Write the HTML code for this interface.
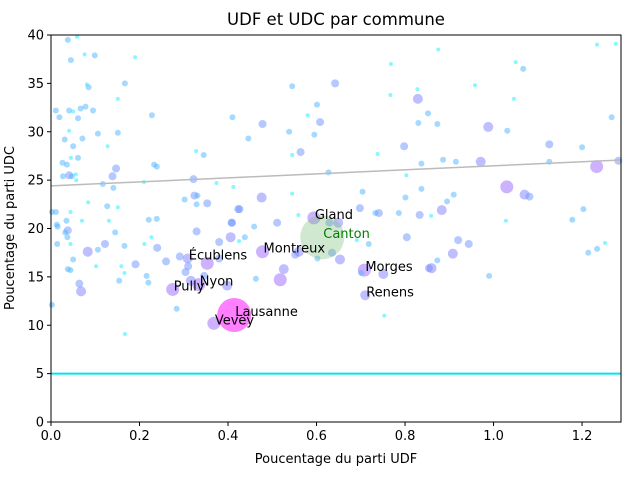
<!DOCTYPE html>
<html><head><meta charset="utf-8"><style>
body{margin:0;background:#fff}
svg{display:block;font-family:"DejaVu Sans","Liberation Sans",sans-serif}
</style></head><body>
<svg id="chart" width="640" height="480">
<text x="336" y="25" text-anchor="middle" font-size="16.5">UDF et UDC par commune</text>
<g id="plot"></g>
<text x="336" y="463" text-anchor="middle" font-size="13">Poucentage du parti UDF</text>
<text transform="translate(14,228) rotate(-90)" text-anchor="middle" font-size="13">Poucentage du parti UDC</text>
</svg>
<script>
const xVals=[.038,.059,.045,.076,.099,.19,.167,.081,.085,.151,.011,.019,.041,.05,.067,.078,.095,.061,.106,.151,.031,.041,.071,.05,.128,.228,.328,.345,.41,.026,.036,.045,.061,.147,.233,.239,.041,.047,.056,.057,.027,.139,.117,.141,.21,.322,.374,.412,.324,.331,.084,.127,.151,.302,.329,.353,.423,.011,.002,.044,.035,.07,.131,.221,.239,.013,.015,.038,.032,.037,.145,.329,.408,.044,.014,.227,.211,.122,.166,.24,.083,.106,.38,.406,.05,.102,.191,.26,.291,.309,.31,.304,.353,.38,.038,.044,.159,.166,.216,.22,.154,.064,.068,.275,.316,.334,.346,.398,.284,.167,.368,.414,.002,.768,.545,.642,.829,.828,.767,.852,.601,.58,.608,.478,.538,.595,.83,.446,.545,.564,.798,.738,.837,.627,.803,.476,.545,.704,.801,.837,.426,.559,.594,.698,.733,.741,.786,.833,.409,.459,.511,.629,.649,.425,.438,.804,.718,.691,.478,.552,.56,.635,.602,.653,.526,.518,.463,.708,.751,.701,.854,.71,.753,.875,1.234,1.276,1.05,1.067,.958,1.046,.873,.988,1.031,1.267,1.126,1.2,.886,.915,.971,1.126,1.233,1.282,1.03,1.07,1.081,.91,.895,.883,.859,1.203,1.178,1.028,1.252,1.234,1.214,.92,.944,.908,.873,.86,.99];
const yVals=[39.5,39.8,37.4,38,37.9,37.7,35,34.9,34.6,33.4,32.2,31.5,32.2,32.1,32.4,32.6,32.2,31.4,29.8,29.9,29.2,30.1,29.3,28.5,28.5,31.7,28,27.6,31.5,26.8,26.6,27.3,27.3,26.2,26.6,26.4,25.5,25.4,25.6,25,25.4,25.4,24.6,24.2,24.8,25.1,24.7,24.3,23.4,23.4,22.7,22.3,22.2,23,22.5,22.6,22,21.7,21.7,21.7,20.8,20.8,20.8,20.9,21,20.4,20.2,19.8,19.6,19.1,19.6,19.7,20.6,18.4,18.4,19.1,18.4,18.4,18.2,18,17.6,17.8,18.6,19.1,16.8,16.1,16.3,16.6,17.1,16.9,16.1,15.5,16.4,16.9,15.8,15.7,16.1,15.4,15.1,14.4,14.6,14.3,13.5,13.7,14.6,14.2,15.1,14.1,11.7,9.1,10.2,11.06,12.1,37,34.7,35,33.4,34.4,33.8,31.9,32.8,31.7,31,30.8,30,29.7,30.9,29.3,27.6,27.9,28.5,27.7,26.7,25.8,25.5,23.2,23.6,23.8,23.2,24.1,22,21.4,21.1,22.1,21.6,21.6,21.6,21.4,20.6,20.2,20.6,20.6,20.6,18.7,19.1,19.1,18.4,18.8,17.6,17.3,17.6,17.5,16.9,16.8,15.8,14.7,14.8,15.7,15.3,15.4,15.9,13.1,11,38.5,39,39.1,37.2,36.5,34.8,33.4,30.8,30.5,30.1,31.5,28.7,28.4,27.1,26.9,26.9,26.9,26.4,27,24.3,23.5,23.3,23.5,22.8,21.9,21.3,22,20.9,20.8,18.5,17.9,17.5,18.8,18.4,17.4,16.7,15.9,15.1];
const sizeVals=[2,1,2,1,2,1,2,1,2,1,2,2,2,1,2,2,2,2,2,2,2,1,2,2,1,2,1,2,2,2,2,1,2,3,2,2,3,2,1,1,2,3,2,2,1,3,1,1,3,2,1,2,1,2,2,3,3,2,2,1,2,1,1,2,2,2,2,3,2,2,2,3,3,1,2,1,1,3,2,3,4,2,3,4,2,1,3,3,3,4,3,3,5,3,2,2,1,1,2,2,2,3,4,5,4,5,3,4,2,1,5,6,2,1,2,3,4,1,1,2,2,1,3,3,2,2,2,2,1,3,3,1,2,2,1,4,1,2,2,2,3,1,5,3,2,3,2,3,3,2,3,3,4,1,2,3,2,1,5,3,4,3,2,4,4,5,2,5,4,2,3,4,1,1,1,1,1,2,1,1,2,4,2,2,3,2,2,2,4,2,5,3,5,4,3,2,2,4,1,2,2,1,1,2,2,3,3,4,2,4,2];
const labelNames=["Gland","Montreux","Écublens","Pully","Nyon","Lausanne","Vevey","Morges","Renens"];
const labelX=[.594,.478,.309,.275,.334,.414,.368,.708,.71];
const labelY=[21.1,17.6,16.9,13.7,14.2,11.06,10.2,15.7,13.1];
const cantonX=[.613], cantonY=[19.1];
const xTicks=[0,0.2,0.4,0.6,0.8,1.0,1.2];
const yTicks=[0,5,10,15,20,25,30,35,40];
const trendIntercept=24.4, trendSlope=2.08, refLine=5;
const X0=51,X1=621,Y0=422,Y1=35,XMAX=1.288,YMAX=40;
const sx=v=>X0+v/XMAX*(X1-X0), sy=v=>Y0-v/YMAX*(Y0-Y1);
const NS="http://www.w3.org/2000/svg";
const plot=document.getElementById('plot');
function mk(tag,attrs,parent){const e=document.createElementNS(NS,tag);for(const k in attrs)e.setAttribute(k,attrs[k]);(parent||plot).appendChild(e);return e;}
const radius=[0,2,3,4,5,6.5,17], tval=[0,0.05,0.3,0.42,0.5,0.6,1];
xVals.forEach((x,i)=>{const s=sizeVals[i],t=tval[s];
 const c=mk('circle',{cx:sx(x),cy:sy(yVals[i]),r:radius[s],fill:`rgb(${Math.round(255*t)},${Math.round(255*(1-t))},255)`,'fill-opacity':0.5});
 
 
});
const cc=mk('circle',{cx:sx(cantonX[0]),cy:sy(cantonY[0]),r:22,fill:'rgb(120,190,120)','fill-opacity':0.35});


const tl=mk('line',{x1:sx(0),y1:sy(trendIntercept),x2:sx(XMAX),y2:sy(trendIntercept+trendSlope*XMAX),stroke:'#bbb','stroke-width':1.5});


const rl=mk('line',{x1:X0,y1:sy(refLine),x2:X1,y2:sy(refLine),stroke:'#00e5ee','stroke-width':2});


labelNames.forEach((n,i)=>{const t=mk('text',{x:sx(labelX[i])+1,y:sy(labelY[i])+1,'font-size':13});t.textContent=n;
 
 });
const ct=mk('text',{x:sx(cantonX[0])+1,y:sy(cantonY[0])+1,'font-size':13,fill:'green'});ct.textContent='Canton';


const fr=mk('rect',{x:X0,y:Y1,width:X1-X0,height:Y0-Y1,fill:'none',stroke:'#000','stroke-width':1});


xTicks.forEach(v=>{const x=sx(v);mk('line',{x1:x,y1:Y0,x2:x,y2:Y0+4,stroke:'#000'});
 const t=mk('text',{x:x,y:Y0+18,'text-anchor':'middle','font-size':13});t.textContent=v.toFixed(1);
 
 });
yTicks.forEach(v=>{const y=sy(v);mk('line',{x1:X0-4,y1:y,x2:X0,y2:y,stroke:'#000'});
 const t=mk('text',{x:X0-7,y:y+4.5,'text-anchor':'end','font-size':13});t.textContent=v;
 
 });
</script>
</body></html>
